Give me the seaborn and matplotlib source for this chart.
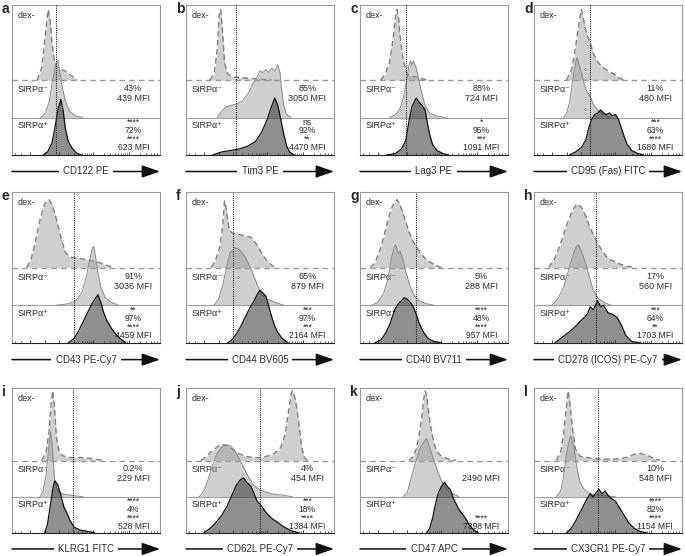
import numpy as np
import pandas as pd
import matplotlib
matplotlib.use('Agg')
import matplotlib.pyplot as plt
import seaborn as sns

sns.set_theme(style='white')
plt.rcParams['font.family'] = ['Liberation Sans', 'DejaVu Sans']

letters = list('abcdefghijkl')
markers = ['CD122 PE', 'Tim3 PE', 'Lag3 PE', 'CD95 (Fas) FITC',
           'CD43 PE-Cy7', 'CD44 BV605', 'CD40 BV711', 'CD278 (ICOS) PE-Cy7',
           'KLRG1 FITC', 'CD62L PE-Cy7', 'CD47 APC', 'CX3CR1 PE-Cy7']
gates = [30, 34, 31, 38, 42, 32, 38, 42, 41, 50, None, 43]

neg_stats = [['43%', '439 MFI'], ['85%', '3050 MFI'], ['88%', '724 MFI'], ['11%', '480 MFI'],
             ['91%', '3036 MFI'], ['65%', '879 MFI'], ['5%', '288 MFI'], ['17%', '560 MFI'],
             ['0.2%', '229 MFI'], ['4%', '454 MFI'], ['', '2490 MFI'], ['10%', '548 MFI']]
pos_stats = [['****', '72%', '****', '623 MFI'], ['ns', '92%', '**', '4470 MFI'],
             ['*', '95%', '***', '1091 MFI'], ['***', '63%', '****', '1680 MFI'],
             ['**', '97%', '****', '4459 MFI'], ['***', '97%', '***', '2164 MFI'],
             ['****', '48%', '****', '957 MFI'], ['***', '64%', '**', '1703 MFI'],
             ['****', '4%', '****', '528 MFI'], ['***', '18%', '****', '1384 MFI'],
             ['', '', '****', '7398 MFI'], ['****', '82%', '****', '1154 MFI']]

# histogram outlines: (x in % of axis width, height in % of box height)
a_dex = [(17,0),(20,8),(22,25),(23.5,40),(24.5,47),(26,38),(27,25),(28.5,14),(30,9),(33,7),(36,6),(40,3),(44,0)]
a_neg = [(19,0),(22,2),(25,10),(27,22),(29,33),(31,38),(32,32),(34,20),(36,11),(39,4),(43,1),(48,0)]
a_pos = [(21,0),(24,2),(27,8),(29,18),(31,30),(33,37),(34.5,30),(36,18),(38,9),(41,4),(44,1),(47,0)]

b_dex = [(16,0),(19,4),(21,20),(22.5,44),(23.5,47),(24.5,35),(26,12),(28,4),(32,2),(45,1),(58,0)]
b_neg = [(21,0),(24,4),(27,7),(30,8),(34,9),(38,11),(42,16),(45,22),(48,27),(50,31),(52,30),(54,32),
         (56,30),(58,33),(60,31),(62,35),(63.5,30),(64.5,20),(66,8),(68,2),(71,0)]
b_pos = [(18,0),(24,2),(30,3),(36,4),(42,6),(47,9),(51,15),(55,24),(58,33),(60,38),(62,33),(64,24),
         (66,14),(68,6),(70,2),(73,0)]

c_dex = [(14,0),(17,4),(20,12),(22,25),(24,42),(25,47),(26,42),(27,30),(29,15),(31,6),(33,3),(38,2),(45,0)]
c_neg = [(20,0),(24,2),(27,6),(29,12),(31,22),(33,34),(34,38),(35,35),(36,38),(38,33),(40,24),(42,15),
         (44,8),(47,3),(52,1),(58,0)]
c_pos = [(18,0),(24,1),(28,4),(31,10),(33,22),(35,32),(37,36),(38,38),(40,35),(42,33),(44,30),(45,24),
         (47,14),(49,7),(52,3),(56,1),(60,0)]

d_dex = [(22,0),(25,6),(27,15),(29,28),(31,42),(32,47),(33,43),(35,33),(37,27),(38,25),(40,18),(43,12),
         (46,9),(50,6),(54,4),(58,1),(62,0)]
d_neg = [(20,0),(22,3),(24,10),(26,24),(28,36),(29,40),(30,37),(32,30),(34,22),(36,17),(38,14),(40,9),
         (43,5),(47,2),(52,0)]
d_pos = [(24,0),(28,2),(32,5),(35,10),(37,18),(39,24),(41,27),(43,28),(45,30),(47,28),(49,27),(51,28),
         (53,26),(55,27),(57,24),(59,18),(61,12),(63,7),(66,3),(70,1),(74,0)]

e_dex = [(10,0),(13,6),(16,18),(19,32),(22,42),(25,45),(27,42),(30,32),(33,20),(36,10),(39,7),(45,6),
         (52,5),(60,3),(68,0)]
e_neg = [(30,0),(38,1),(43,3),(47,8),(50,18),(52,28),(54,37),(55,39),(56,35),(58,22),(60,12),(63,5),
         (67,2),(72,0)]
e_pos = [(38,0),(42,3),(45,8),(48,14),(51,20),(54,26),(56,29),(58,32),(60,27),(62,20),(64,15),(67,10),
         (70,6),(73,3),(77,0)]

f_dex = [(17,0),(20,5),(23,14),(25,30),(26,44),(27,40),(29,26),(31,23),(35,22),(40,21),(44,20),(48,15),
         (52,8),(56,3),(60,0)]
f_neg = [(19,0),(22,4),(25,14),(28,28),(30,35),(33,38),(36,37),(40,32),(44,24),(48,14),(51,7),(55,4),
         (60,2),(66,0)]
f_pos = [(28,0),(31,2),(34,6),(37,11),(40,17),(43,23),(46,28),(48,32),(50,35),(52,33),(54,31),(56,24),
         (58,17),(60,11),(62,7),(65,3),(69,0)]

g_dex = [(7,0),(10,3),(13,10),(16,20),(19,32),(22,41),(25,45),(27,42),(30,33),(33,24),(36,17),(38,14),
         (41,9),(45,5),(50,2),(55,0)]
g_neg = [(8,0),(12,2),(16,8),(19,18),(21,30),(23,38),(24,40),(26,34),(27,36),(29,30),(31,22),(34,12),
         (37,6),(40,3),(45,1),(50,0)]
g_pos = [(10,0),(14,2),(17,6),(20,12),(22,18),(24,23),(26,26),(28,28),(30,30),(32,29),(34,27),(36,24),
         (38,19),(40,13),(43,7),(46,3),(50,1),(55,0)]

h_dex = [(10,0),(14,6),(18,16),(22,28),(26,38),(29,42),(32,40),(35,34),(38,26),(42,18),(46,11),(50,6),
         (56,3),(62,1),(68,0)]
h_neg = [(12,0),(16,4),(20,12),(23,22),(26,32),(28,38),(30,40),(32,36),(34,30),(36,24),(38,17),(40,10),
         (43,5),(47,2),(52,0)]
h_pos = [(14,0),(18,3),(22,6),(26,9),(30,13),(33,16),(36,19),(38,24),(40,22),(42,26),(43,28),(45,24),
         (47,25),(50,20),(53,19),(56,17),(59,12),(62,5),(66,1),(72,0)]

i_dex = [(20,0),(23,6),(25,20),(26.5,40),(27.5,48),(28.5,40),(30,16),(32,5),(35,3),(40,2),(48,2),(56,1),(62,0)]
i_neg = [(19,0),(21,4),(23,15),(25,35),(26,45),(27,38),(28,22),(29,10),(31,4),(34,2),(40,1),(48,0)]
i_pos = [(22,0),(24,6),(26,20),(28,33),(29,36),(31,33),(33,26),(35,18),(37,14),(39,9),(42,4),(46,2),
         (52,1),(56,0)]

j_dex = [(10,0),(14,3),(18,7),(22,10),(25,11),(28,10),(31,8),(35,5),(40,3),(45,2),(50,2),(55,3),(60,5),
         (64,9),(67,18),(69,32),(71,46),(72,48),(74,42),(76,28),(78,10),(80,2),(82,0)]
j_neg = [(9,0),(12,4),(15,12),(18,22),(21,30),(24,34),(27,36),(30,35),(33,32),(36,26),(39,20),(42,14),
         (45,9),(48,6),(52,4),(58,2),(66,1),(72,0)]
j_pos = [(12,0),(16,3),(20,7),(24,12),(28,19),(31,26),(34,33),(37,37),(39,38),(41,35),(44,32),(46,27),
         (48,22),(50,20),(52,17),(55,13),(58,10),(61,8),(65,5),(70,2),(76,0)]

k_dex = [(33,0),(36,3),(38,8),(40,18),(42,32),(43,42),(44,48),(45,45),(46,36),(48,22),(50,12),(52,6),
         (55,3),(60,1),(65,0)]
k_neg = [(29,0),(32,3),(34,11),(37,22),(40,32),(42,36),(44,39),(45,40),(47,34),(49,28),(51,22),(53,16),
         (56,9),(59,5),(63,2),(67,0)]
k_pos = [(45,0),(47,3),(49,10),(51,20),(53,28),(55,32),(57,35),(59,32),(61,30),(63,24),(65,20),(67,16),
         (70,12),(72,9),(74,5),(77,2),(80,0)]

l_dex = [(15,0),(18,6),(20,18),(22,38),(23,48),(24,42),(26,22),(28,8),(31,3),(36,2),(45,1),(55,1),(62,2),
         (67,4),(71,5),(75,4),(80,2),(85,0)]
l_neg = [(15,0),(18,4),(20,14),(22,30),(24,40),(25,42),(27,34),(29,20),(31,10),(34,5),(38,2),(45,1),(55,0)]
l_pos = [(22,0),(25,3),(28,8),(31,14),(34,20),(36,24),(38,27),(40,25),(42,28),(44,30),(46,27),(48,29),
         (50,26),(52,24),(55,22),(58,17),(61,12),(64,7),(68,3),(72,1),(76,0)]

curves = [(a_dex, a_neg, a_pos), (b_dex, b_neg, b_pos), (c_dex, c_neg, c_pos), (d_dex, d_neg, d_pos),
          (e_dex, e_neg, e_pos), (f_dex, f_neg, f_pos), (g_dex, g_neg, g_pos), (h_dex, h_neg, h_pos),
          (i_dex, i_neg, i_pos), (j_dex, j_neg, j_pos), (k_dex, k_neg, k_pos), (l_dex, l_neg, l_pos)]


def ridge(ax, pts, base, fill, alpha, edge, ls, lw, z):
    df = pd.DataFrame(pts, columns=['x', 'h'])
    df['y'] = df['h'] + base
    ax.fill_between(df['x'], base, df['y'], color=fill, alpha=alpha, lw=0, zorder=z)
    sns.lineplot(data=df, x='x', y='y', ax=ax, color=edge, lw=lw, linestyle=ls,
                 sort=False, estimator=None, zorder=z + 0.1)


# biexponential-looking tick marks along the bottom edge
def biex(v):
    return 22 + 24.5 * np.arcsinh(np.asarray(v, float) / 94) / np.log(10)

minor_v = [s * m * d for d in (100, 1000, 10000) for m in range(2, 10) for s in (-1, 1)]
major_v = [0, 100, -100, 1000, -1000, 10000, 100000]
minor_x = [x for x in biex(minor_v) if 0 < x < 100]
major_x = [x for x in biex(major_v) if 0 < x < 100]

W, H = 685, 556
col_left = [12, 186, 360, 534]
row_top = [5, 192, 388]
row_h = [150, 151, 145]
box_w = 148
txt_col = '#2a2a2a'

fig = plt.figure(figsize=(W / 100, H / 100), dpi=100)

for i, letter in enumerate(letters):
    r, c = divmod(i, 4)
    ax = fig.add_axes([col_left[c] / W, 1 - (row_top[r] + row_h[r]) / H, box_w / W, row_h[r] / H])
    ax.set_xlim(0, 100)
    ax.set_ylim(0, 100)

    ax.axhline(50, color='#9a9a9a', lw=1.0, ls=(0, (4, 3)), zorder=1)
    ax.axhline(25, color='#a0a0a0', lw=0.8, zorder=1)

    dex, neg, pos = curves[i]
    ridge(ax, dex, 50, '#9c9c9c', 0.48, '#808080', (0, (4, 2.5)), 1.0, 2)
    ridge(ax, neg, 25, '#9c9c9c', 0.48, '#8a8a8a', '-', 0.7, 3)
    ridge(ax, pos, 0, '#333333', 0.55, '#111111', '-', 0.9, 4)

    if gates[i] is not None:
        ax.axvline(gates[i], color='#222222', lw=0.8, ls=(0, (1, 1)), zorder=5)

    ax.text(3.5, 93, 'dex-', fontsize=6.5, ha='left', va='center', color=txt_col, zorder=1.5)
    ax.text(3.5, 43.5, 'SIRPα⁻', fontsize=6.5, ha='left', va='center', color=txt_col, zorder=1.5)
    ax.text(3.5, 19.5, 'SIRPα⁺', fontsize=6.5, ha='left', va='center', color=txt_col, zorder=1.5)

    # one text block per band, so the stacked lines keep the tight spacing of the original
    ax.text(82, 41, '\n'.join(neg_stats[i]), fontsize=6.5, ha='center', va='center',
            multialignment='center', linespacing=1.15, color=txt_col, zorder=1.5)
    ax.text(82, 13.2, '\n'.join(pos_stats[i]), fontsize=6.2, ha='center', va='center',
            multialignment='center', linespacing=0.92, color=txt_col, zorder=1.5)

    ax.set_xlabel('')
    ax.set_ylabel('')
    ax.set_yticks([])
    ax.set_xticks(major_x)
    ax.set_xticks(minor_x, minor=True)
    ax.set_xticklabels([])
    ax.tick_params(axis='x', which='major', bottom=True, direction='in', length=2.5, width=0.6, color='#222222')
    ax.tick_params(axis='x', which='minor', bottom=True, direction='in', length=1.5, width=0.5, color='#222222')
    for side in ['top', 'left', 'right']:
        ax.spines[side].set_color('#9a9a9a')
        ax.spines[side].set_linewidth(0.8)
    ax.spines['bottom'].set_color('#222222')
    ax.spines['bottom'].set_linewidth(0.8)

    ax.annotate('', xy=(1.0, -0.11), xytext=(0.0, -0.11), xycoords='axes fraction',
                textcoords='axes fraction',
                arrowprops=dict(arrowstyle='-|>,head_length=1.1,head_width=0.38',
                                mutation_scale=10, lw=1.1, color='#111111',
                                shrinkA=0, shrinkB=0))
    ax.text(0.5, -0.11, markers[i], transform=ax.transAxes, fontsize=7, ha='center', va='center',
            color=txt_col, bbox=dict(fc='white', ec='none', pad=3))

    fig.text((col_left[c] - 10) / W, 1 - (row_top[r] + 4) / H, letter, fontsize=10,
             fontweight='bold', ha='left', va='center')

fig.savefig('out.png', dpi=100)
